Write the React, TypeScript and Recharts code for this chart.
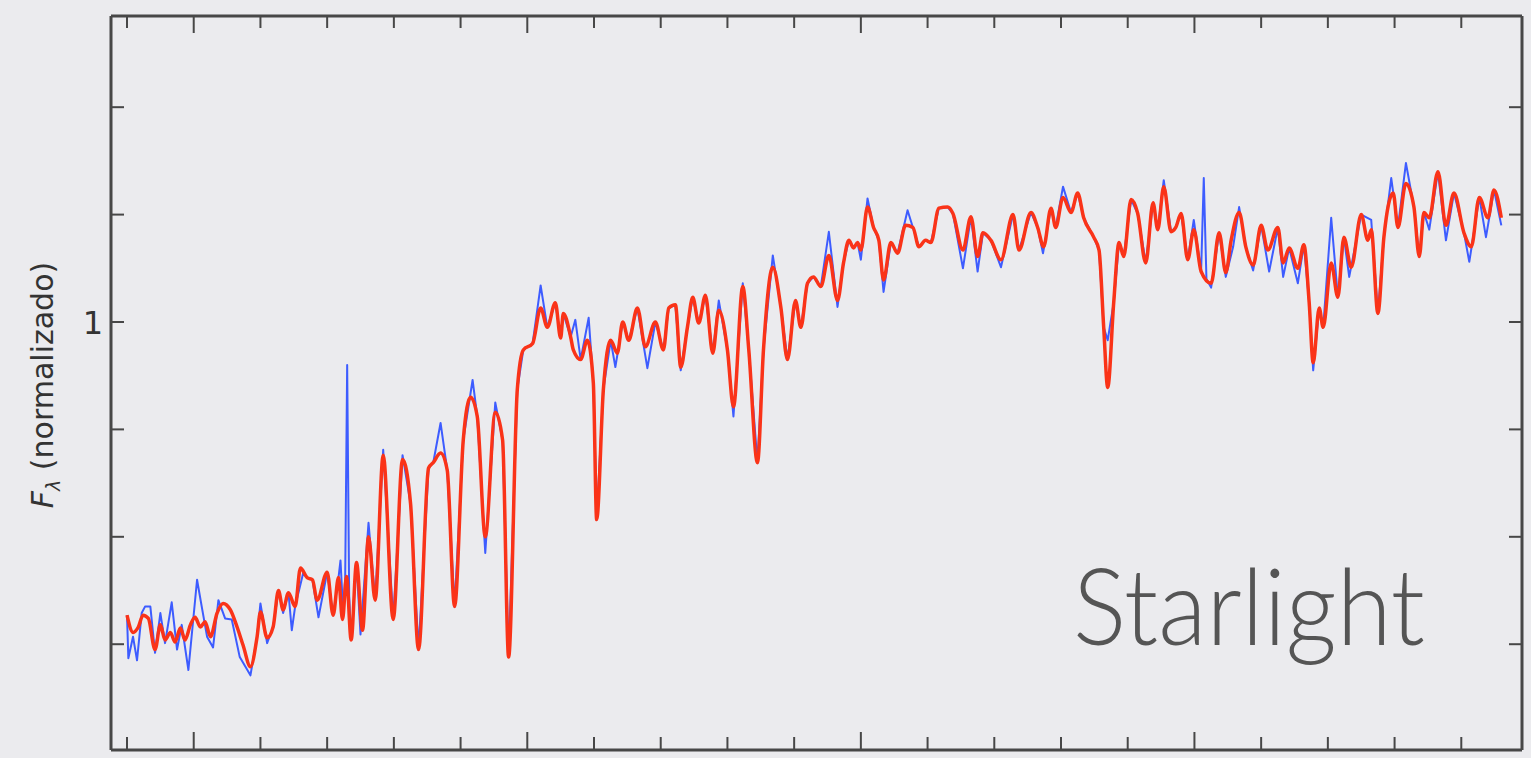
import { LineChart, Line, XAxis, YAxis } from "recharts"

// wavelength (Angstrom) and normalized flux, model fit (red)
const lambdaModel = [
  3400, 3409, 3417, 3424, 3432, 3442, 3450, 3457, 3465, 3472, 3480, 3487, 3495, 3502, 3510, 3517,
  3525, 3535, 3544, 3555, 3565, 3574, 3585, 3595, 3600, 3610, 3619, 3627, 3634, 3642, 3652, 3660,
  3670, 3678, 3685, 3700, 3709, 3717, 3723, 3729, 3736, 3744, 3753, 3762, 3772, 3784, 3799, 3813,
  3825, 3837, 3852, 3859, 3870, 3880, 3891, 3904, 3915, 3925, 3937, 3952, 3963, 3972, 3985, 3994,
  4008, 4020, 4030, 4042, 4050, 4054, 4065, 4069, 4080, 4090, 4099, 4104, 4114, 4125, 4135, 4143,
  4152, 4165, 4177, 4192, 4204, 4212, 4222, 4230, 4240, 4248, 4257, 4267, 4278, 4287, 4300, 4309,
  4323, 4332, 4345, 4354, 4368, 4380, 4390, 4402, 4410, 4420, 4429, 4440, 4452, 4465, 4474, 4482, 4489, 4495, 4500,
  4510, 4519, 4527, 4534, 4545, 4555, 4567, 4578, 4587, 4597, 4605, 4617, 4630, 4638, 4653, 4665, 4675,
  4683, 4695, 4710, 4728, 4737, 4755, 4765, 4774, 4785, 4792, 4803, 4815, 4825, 4834, 4849, 4857,
  4864, 4870, 4879, 4887, 4894, 4905, 4915, 4927, 4938, 4945, 4954, 4965, 4972, 4980, 4990, 4999,
  5010, 5025, 5037, 5047, 5055, 5067, 5077, 5088, 5100, 5110, 5125, 5133, 5142, 5155, 5164, 5172,
  5178, 5187, 5193, 5205, 5215, 5224, 5235, 5250, 5260, 5265, 5275, 5284, 5298, 5305, 5317, 5329,
  5337, 5344, 5352, 5365, 5377, 5389, 5404, 5415, 5427, 5440, 5449, 5460,
]
const fluxModel = [
  0.727, 0.711, 0.716, 0.727, 0.724, 0.695, 0.718, 0.704, 0.711, 0.702, 0.715, 0.704, 0.718, 0.725, 0.716, 0.721,
  0.707, 0.729, 0.738, 0.732, 0.716, 0.699, 0.679, 0.707, 0.73, 0.706, 0.716, 0.75, 0.732, 0.748, 0.735, 0.771,
  0.762, 0.76, 0.741, 0.767, 0.727, 0.762, 0.723, 0.763, 0.704, 0.776, 0.713, 0.8, 0.741, 0.876, 0.723, 0.872,
  0.831, 0.695, 0.864, 0.869, 0.878, 0.862, 0.735, 0.89, 0.93, 0.912, 0.8, 0.916, 0.89, 0.688, 0.937, 0.974,
  0.98, 1.013, 0.995, 1.018, 0.985, 1.008, 0.986, 0.974, 0.965, 0.983, 0.943, 0.816, 0.937, 0.983, 0.971, 1.0,
  0.983, 1.013, 0.977, 1.0, 0.974, 1.013, 1.016, 0.958, 0.995, 1.023, 0.999, 1.025, 0.971, 1.011, 0.974, 0.921,
  1.033, 0.974, 0.869, 0.974, 1.051, 1.014, 0.965, 1.02, 0.995, 1.036, 1.042, 1.033, 1.062, 1.02, 1.055, 1.076, 1.069, 1.074, 1.067,
  1.107, 1.088, 1.076, 1.039, 1.074, 1.064, 1.09, 1.088, 1.07, 1.076, 1.074, 1.106, 1.107, 1.101, 1.067, 1.098, 1.061,
  1.083, 1.076, 1.058, 1.1, 1.067, 1.102, 1.088, 1.07, 1.106, 1.088, 1.116, 1.102, 1.12, 1.097, 1.079, 1.067,
  0.995, 0.939, 1.018, 1.074, 1.061, 1.114, 1.101, 1.055, 1.111, 1.086, 1.126, 1.084, 1.088, 1.101, 1.058, 1.086,
  1.047, 1.036, 1.083, 1.046, 1.076, 1.102, 1.07, 1.053, 1.09, 1.067, 1.088, 1.055, 1.069, 1.05, 1.072, 1.018,
  0.962, 1.013, 0.995, 1.055, 1.023, 1.079, 1.051, 1.1, 1.076, 1.086, 1.008, 1.079, 1.12, 1.088, 1.129, 1.107,
  1.061, 1.102, 1.097, 1.14, 1.09, 1.12, 1.083, 1.07, 1.116, 1.097, 1.123, 1.097,
]

// observed spectrum (blue)
const lambdaObs = [
  3400, 3402, 3409, 3415, 3422, 3427, 3435, 3442, 3450, 3457, 3467, 3475, 3482, 3492, 3505, 3512,
  3520, 3529, 3537, 3547, 3557, 3569, 3585, 3595, 3600, 3610, 3619, 3627, 3634, 3642, 3647, 3652,
  3664, 3670, 3678, 3687, 3700, 3709, 3717, 3720, 3724, 3727, 3730, 3733, 3736, 3744, 3750, 3762,
  3772, 3784, 3799, 3813, 3825, 3837, 3852, 3859, 3870, 3880, 3891, 3904, 3918, 3925, 3937, 3952,
  3963, 3972, 3985, 3994, 4008, 4020, 4030, 4042, 4050, 4054, 4065, 4072, 4080, 4092, 4099, 4104,
  4114, 4125, 4132, 4143, 4152, 4165, 4180, 4192, 4204, 4212, 4222, 4230, 4240, 4248, 4257, 4267,
  4278, 4287, 4300, 4309, 4323, 4332, 4345, 4354, 4368, 4380, 4390, 4402, 4410, 4420, 4429, 4440,
  4452, 4465, 4474, 4482, 4489, 4495, 4500, 4510, 4519, 4527, 4534, 4545, 4555, 4570, 4578, 4587, 4597, 4605, 4617, 4630,
  4638, 4653, 4665, 4675, 4683, 4695, 4710, 4728, 4737, 4755, 4765, 4773, 4785, 4792, 4803, 4815,
  4825, 4834, 4849, 4857, 4864, 4870, 4879, 4887, 4894, 4905, 4915, 4927, 4938, 4945, 4954, 4965,
  4972, 4980, 4990, 4999, 5010, 5014, 5018, 5025, 5037, 5047, 5058, 5067, 5077, 5088, 5100, 5112,
  5125, 5133, 5142, 5155, 5164, 5172, 5178, 5187, 5193, 5205, 5215, 5224, 5232, 5250, 5265, 5275,
  5284, 5295, 5305, 5317, 5329, 5337, 5344, 5352, 5365, 5377, 5389, 5404, 5412, 5427, 5437, 5449,
  5460,
]
const fluxObs = [
  0.727, 0.687, 0.707, 0.685, 0.729, 0.735, 0.735, 0.692, 0.729, 0.701, 0.739, 0.695, 0.718, 0.676, 0.76, 0.735,
  0.707, 0.697, 0.741, 0.724, 0.723, 0.688, 0.671, 0.707, 0.738, 0.701, 0.716, 0.75, 0.729, 0.748, 0.713, 0.735,
  0.766, 0.762, 0.76, 0.725, 0.767, 0.727, 0.762, 0.778, 0.73, 0.76, 0.96, 0.745, 0.704, 0.776, 0.709, 0.813,
  0.741, 0.881, 0.723, 0.876, 0.831, 0.695, 0.864, 0.869, 0.906, 0.862, 0.735, 0.89, 0.946, 0.912, 0.785, 0.925,
  0.89, 0.688, 0.937, 0.974, 0.98, 1.034, 0.995, 1.018, 0.985, 1.008, 0.986, 1.002, 0.965, 1.004, 0.943, 0.816,
  0.937, 0.983, 0.958, 1.0, 0.983, 1.013, 0.957, 1.0, 0.974, 1.013, 1.016, 0.955, 0.995, 1.023, 0.999, 1.025,
  0.971, 1.02, 0.974, 0.912, 1.036, 0.974, 0.869, 0.974, 1.062, 1.014, 0.965, 1.02, 0.995, 1.036, 1.042, 1.033,
  1.084, 1.014, 1.055, 1.076, 1.069, 1.074, 1.058, 1.115, 1.088, 1.076, 1.028, 1.074, 1.064, 1.104, 1.088, 1.07, 1.076, 1.074, 1.106, 1.107,
  1.101, 1.05, 1.098, 1.047, 1.083, 1.076, 1.051, 1.1, 1.067, 1.102, 1.088, 1.064, 1.106, 1.088, 1.126, 1.102,
  1.12, 1.097, 1.079, 1.067, 0.995, 0.983, 1.018, 1.074, 1.061, 1.114, 1.101, 1.055, 1.111, 1.086, 1.132, 1.084,
  1.088, 1.101, 1.058, 1.095, 1.047, 1.134, 1.04, 1.032, 1.083, 1.042, 1.07, 1.107, 1.07, 1.048, 1.09, 1.047,
  1.088, 1.042, 1.069, 1.036, 1.072, 1.018, 0.955, 1.013, 0.995, 1.097, 1.023, 1.079, 1.042, 1.1, 1.095, 1.008,
  1.079, 1.134, 1.088, 1.148, 1.107, 1.061, 1.102, 1.086, 1.14, 1.076, 1.12, 1.083, 1.056, 1.116, 1.079, 1.123,
  1.09,
]

const xTicks = [
  3400, 3500, 3600, 3700, 3800, 3900, 4000, 4100, 4200, 4300, 4400, 4500, 4600, 4700, 4800, 4900,
  5000, 5100, 5200, 5300, 5400,
]
const yTicks = [0.7, 0.8, 0.9, 1.0, 1.1, 1.2]
const yTickLabels: Record<string, string> = { "1": "1" }

const modelData = lambdaModel.map((l, i) => ({ lambda: l, flux: fluxModel[i] }))
const obsData = lambdaObs.map((l, i) => ({ lambda: l, flux: fluxObs[i] }))

const W = 1531
const H = 758
const FRAME = "#474747"
const MARGIN = { top: 15, right: 8, bottom: 7, left: 110 }
const X_DOMAIN = [3376, 5491]
const Y_DOMAIN = [0.6015, 1.2849]
const PLOT_LEFT = MARGIN.left + 1
const PLOT_TOP = MARGIN.top + 1
const PLOT_W = W - MARGIN.left - MARGIN.right - 2

const tickLen = (v: number) => (v % 500 === 0 ? 17 : 12)

// axes are 1px thick (recharts skips 0-sized axes), ticks point into the plot
const BottomTick = (props: any) => {
  const { x, payload } = props
  const y = props.y - 1
  return <line x1={x} y1={y} x2={x} y2={y - tickLen(payload.value)} stroke={FRAME} strokeWidth={2} />
}
const LeftTick = (props: any) => {
  const { y, payload } = props
  const x = props.x + 1
  const label = yTickLabels[String(payload.value)]
  return (
    <g>
      <line x1={x} y1={y} x2={x + 12} y2={y} stroke={FRAME} strokeWidth={2} />
      {label && (
        <text x={x - 9} y={y} dy="0.36em" textAnchor="end" fontFamily="DejaVu Sans" fontSize={32} fill="#333">
          {label}
        </text>
      )}
    </g>
  )
}
const RightTick = (props: any) => {
  const { y } = props
  const x = props.x - 1
  return <line x1={x} y1={y} x2={x - 12} y2={y} stroke={FRAME} strokeWidth={2} />
}

// top edge ticks mirror the bottom ones (same linear wavelength axis)
const topTickX = (v: number) => PLOT_LEFT + ((v - X_DOMAIN[0]) / (X_DOMAIN[1] - X_DOMAIN[0])) * PLOT_W

export default function App() {
  const axisLine = { stroke: FRAME, strokeWidth: 3 }
  return (
    <div style={{ position: "absolute", left: 0, top: 0, width: W, height: H, background: "#ebebee", overflow: "hidden" }}>
      <LineChart width={W} height={H} margin={MARGIN}>
        <XAxis xAxisId="b" type="number" dataKey="lambda" orientation="bottom" domain={X_DOMAIN}
          allowDataOverflow ticks={xTicks} interval={0} height={1} tickSize={0} tickMargin={0}
          tickLine={false} axisLine={axisLine} tick={BottomTick} />
        <XAxis xAxisId="t" type="number" dataKey="lambda" orientation="top" domain={X_DOMAIN}
          allowDataOverflow ticks={xTicks} height={1} tickLine={false} axisLine={axisLine} tick={false} />
        <YAxis yAxisId="l" type="number" orientation="left" domain={Y_DOMAIN}
          allowDataOverflow ticks={yTicks} interval={0} width={1} tickSize={0} tickMargin={0}
          tickLine={false} axisLine={axisLine} tick={LeftTick} />
        <YAxis yAxisId="r" type="number" orientation="right" domain={Y_DOMAIN}
          allowDataOverflow ticks={yTicks} interval={0} width={1} tickSize={0} tickMargin={0}
          tickLine={false} axisLine={axisLine} tick={RightTick} />
        <Line xAxisId="t" yAxisId="r" data={modelData} dataKey="flux" stroke="none" dot={false}
          isAnimationActive={false} />
        <Line xAxisId="b" yAxisId="l" data={obsData} dataKey="flux" type="linear" stroke="#3d5cff"
          strokeWidth={2} dot={false} isAnimationActive={false} strokeLinejoin="round" />
        <Line xAxisId="b" yAxisId="l" data={modelData} dataKey="flux" type="monotone" stroke="#fa3318"
          strokeWidth={3.5} dot={false} isAnimationActive={false} strokeLinejoin="round" />
      </LineChart>
      <svg width={W} height={H} style={{ position: "absolute", left: 0, top: 0, pointerEvents: "none" }}>
        {xTicks.map((v) => (
          <line key={v} x1={topTickX(v)} y1={PLOT_TOP} x2={topTickX(v)} y2={PLOT_TOP + tickLen(v)}
            stroke={FRAME} strokeWidth={2} />
        ))}
        <text transform="translate(53, 385) rotate(-90)" textAnchor="middle" fontFamily="DejaVu Sans" fontSize={30} fill="#333">
          <tspan fontStyle="italic">F</tspan>
          <tspan fontStyle="italic" fontSize={19} dy={7}>λ</tspan>
          <tspan dy={-7}> (normalizado)</tspan>
        </text>
        <text x={1073} y={645} fontFamily="Lato" fontWeight={300} fontSize={106} fill="#555" textLength={352} lengthAdjust="spacingAndGlyphs">
          Starlight
        </text>
      </svg>
    </div>
  )
}
